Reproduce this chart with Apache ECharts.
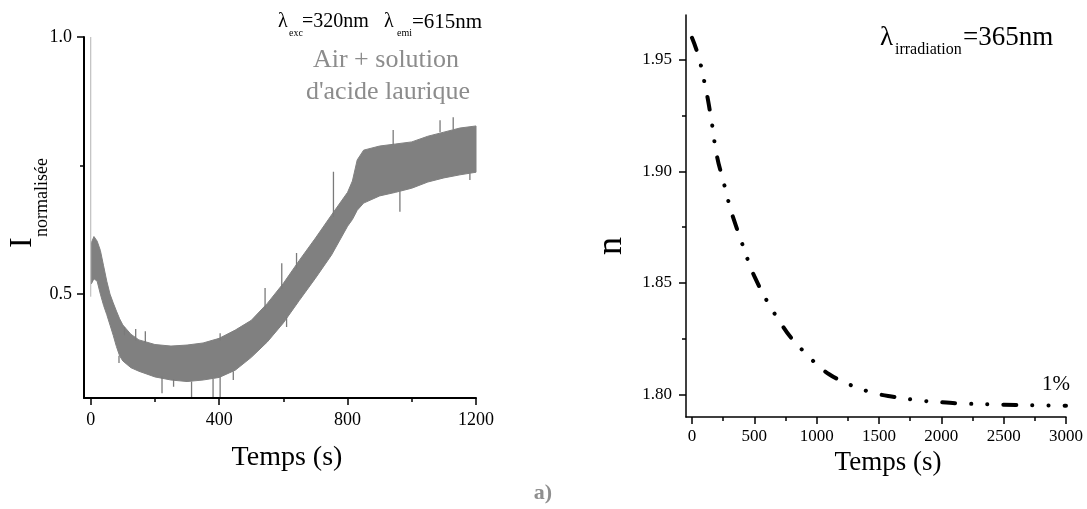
<!DOCTYPE html>
<html>
<head>
<meta charset="utf-8">
<script src="https://cdn.jsdelivr.net/npm/echarts@6/dist/echarts.min.js"></script>
<style>
  html, body { margin: 0; padding: 0; background: #fff; }
  #chart { width: 1087px; height: 509px; }
</style>
</head>
<body>
<div id="chart"></div>
<script>
// panneau gauche : enveloppe du signal bruité
var bandTime = [2, 10, 20, 30, 40, 50, 60, 70, 80, 90, 100, 125, 150, 200, 250, 300, 350, 400, 450, 500,
  550, 600, 650, 700, 750, 800, 815, 830, 850, 900, 950, 1000, 1050, 1100, 1150, 1200];
var bandLow = [0.520, 0.530, 0.525, 0.500, 0.478, 0.460, 0.440, 0.420, 0.398, 0.380, 0.370, 0.357, 0.350, 0.339,
  0.333, 0.330, 0.333, 0.338, 0.352, 0.377, 0.407, 0.444, 0.488, 0.531, 0.576, 0.632, 0.645, 0.663, 0.677,
  0.691, 0.698, 0.706, 0.718, 0.726, 0.732, 0.737];
var bandHigh = [0.600, 0.612, 0.603, 0.585, 0.555, 0.525, 0.500, 0.483, 0.467, 0.452, 0.440, 0.422, 0.411, 0.402,
  0.399, 0.401, 0.405, 0.414, 0.430, 0.449, 0.482, 0.521, 0.566, 0.609, 0.654, 0.698, 0.720, 0.761, 0.780,
  0.788, 0.792, 0.796, 0.807, 0.815, 0.823, 0.827];
// pics isolés : [temps, départ, extrémité]
var spikes = [[88, 0.38, 0.366], [105, 0.42, 0.436], [140, 0.41, 0.432], [170, 0.405, 0.428], [222, 0.34, 0.307],
  [258, 0.335, 0.320], [314, 0.33, 0.300], [381, 0.335, 0.300], [403, 0.34, 0.300], [403, 0.41, 0.424],
  [444, 0.35, 0.333], [543, 0.47, 0.512], [595, 0.51, 0.560], [610, 0.455, 0.436], [641, 0.55, 0.580],
  [756, 0.65, 0.738], [942, 0.79, 0.819], [963, 0.70, 0.660], [1088, 0.815, 0.838], [1129, 0.82, 0.844],
  [1181, 0.735, 0.722]];
var startSpike = [0.495, 1.0];
var leftXTicks = [0, 400, 800, 1200];
var leftXMinor = [200, 600, 1000];
var leftYTicks = [0.5, 1.0];
var leftYMinor = [0.75];

// panneau droit : indice n en fonction du temps
var nTime = [0, 50, 100, 150, 200, 250, 300, 350, 400, 450, 500, 600, 700, 800, 900, 1000, 1100, 1200, 1300,
  1400, 1500, 1600, 1800, 2000, 2200, 2400, 2600, 2800, 3000];
var nValue = [1.960, 1.952, 1.940, 1.925, 1.907, 1.896, 1.885, 1.876, 1.868, 1.860, 1.853, 1.842, 1.833, 1.825,
  1.819, 1.8135, 1.809, 1.806, 1.8035, 1.8015, 1.800, 1.799, 1.7974, 1.7964, 1.7958, 1.7955, 1.7952, 1.7950, 1.7949];
var rightXTicks = [0, 500, 1000, 1500, 2000, 2500, 3000];
var rightXMinor = [250, 750, 1250, 1750, 2250, 2750];
var rightYTicks = [1.80, 1.85, 1.90, 1.95];
var rightYMinor = [1.825, 1.875, 1.925];

var FONT = 'Liberation Serif';

function mainAxis(grid, pos, min, max, ticks, size, margin, lineW, fmt) {
  return {
    type: 'value', gridIndex: grid, position: pos, min: min, max: max,
    axisLine: { show: true, onZero: false, lineStyle: { color: '#000', width: lineW } },
    axisTick: { show: true, customValues: ticks, length: 7, lineStyle: { color: '#000', width: 1.5 } },
    axisLabel: { show: true, customValues: ticks, margin: margin, color: '#000', fontFamily: FONT, fontSize: size, formatter: fmt },
    splitLine: { show: false }
  };
}
function minorAxis(grid, pos, min, max, ticks) {
  return {
    type: 'value', gridIndex: grid, position: pos, min: min, max: max,
    axisLine: { show: false, onZero: false },
    axisTick: { show: true, customValues: ticks, length: 4, lineStyle: { color: '#000', width: 1.5 } },
    axisLabel: { show: false },
    splitLine: { show: false }
  };
}

var chart = echarts.init(document.getElementById('chart'));

var leftX = mainAxis(0, 'bottom', -21, 1200, leftXTicks, 18, 13, 2, function (v) { return v; });
leftX.name = 'Temps (s)';
leftX.nameLocation = 'middle';
leftX.nameGap = 46;
leftX.nameTextStyle = { fontFamily: FONT, fontSize: 28, color: '#000', padding: [0, 0, 0, 14] };

var rightX = mainAxis(1, 'bottom', -48, 3000, rightXTicks, 17, 11, 1.5, function (v) { return v; });
rightX.name = 'Temps (s)';
rightX.nameLocation = 'middle';
rightX.nameGap = 29;
rightX.nameTextStyle = { fontFamily: FONT, fontSize: 27, color: '#000', padding: [0, 0, 0, 24] };

function txt(x, y, s, size, opts) {
  opts = opts || {};
  return {
    type: 'text', x: x, y: y, rotation: opts.rot || 0, silent: true,
    style: {
      text: s, fill: opts.fill || '#000',
      font: (opts.weight || 'normal') + ' ' + size + 'px "' + FONT + '"',
      align: opts.align || 'left', verticalAlign: 'middle'
    }
  };
}

// bande grise : polygone haut puis bas, placé par les échelles du repère
function renderBand(params, api) {
  var pts = [];
  var i;
  for (i = 0; i < bandTime.length; i++) pts.push(api.coord([bandTime[i], bandHigh[i]]));
  for (i = bandTime.length - 1; i >= 0; i--) pts.push(api.coord([bandTime[i], bandLow[i]]));
  return {
    type: 'polygon',
    shape: { points: pts },
    style: { fill: '#808080', stroke: '#808080', lineWidth: 1 }
  };
}

chart.setOption({
  animation: false,
  grid: [
    { left: 84, right: 611, top: 37, bottom: 111 },
    { left: 686, right: 21, top: 15, bottom: 92 }
  ],
  xAxis: [
    leftX,
    minorAxis(0, 'bottom', -21, 1200, leftXMinor),
    rightX,
    minorAxis(1, 'bottom', -48, 3000, rightXMinor)
  ],
  yAxis: [
    mainAxis(0, 'left', 0.298, 1.0, leftYTicks, 18, 12, 2, function (v) { return v.toFixed(1); }),
    minorAxis(0, 'left', 0.298, 1.0, leftYMinor),
    mainAxis(1, 'left', 1.7898, 1.9702, rightYTicks, 17, 14, 1.5, function (v) { return v.toFixed(2); }),
    minorAxis(1, 'left', 1.7898, 1.9702, rightYMinor)
  ],
  series: [
    {
      type: 'custom', xAxisIndex: 0, yAxisIndex: 0,
      data: [[bandTime[0], bandLow[0]]],
      renderItem: renderBand
    },
    {
      type: 'line', xAxisIndex: 0, yAxisIndex: 0, symbol: 'none',
      data: spikes.reduce(function (acc, s) { return acc.concat([[s[0], s[1]], [s[0], s[2]], [s[0], '-']]); }, []),
      lineStyle: { color: '#7a7a7a', width: 1.3 }
    },
    {
      type: 'line', xAxisIndex: 0, yAxisIndex: 0, symbol: 'none',
      data: [[0, startSpike[0]], [0, startSpike[1]]],
      lineStyle: { color: '#b4b4b4', width: 1 }
    },
    {
      type: 'line', xAxisIndex: 2, yAxisIndex: 2, symbol: 'none', smooth: true,
      data: nTime.map(function (t, i) { return [t, nValue[i]]; }),
      lineStyle: { color: '#000', width: 4, type: [13, 16, 0.1, 16, 0.1, 16], cap: 'round' }
    }
  ],
  graphic: [
    // titre gauche
    txt(278, 22, 'λ', 20), txt(289, 33, 'exc', 10), txt(302, 22, '=320nm', 20),
    txt(384, 22, 'λ', 20), txt(397, 33, 'emi', 10), txt(412, 22, '=615nm', 21),
    txt(386, 60, 'Air + solution', 26, { fill: '#8c8c8c', align: 'center' }),
    txt(388, 92, "d'acide laurique", 26, { fill: '#8c8c8c', align: 'center' }),
    // nom de l'axe y gauche
    txt(23, 248, 'I', 32, { rot: Math.PI / 2 }),
    txt(42.5, 237, 'normalisée', 18, { rot: Math.PI / 2 }),
    // panneau droit
    txt(880, 38, 'λ', 27), txt(895, 50, 'irradiation', 16), txt(963, 38, '=365nm', 27),
    txt(612, 246, 'n', 36, { rot: Math.PI / 2, align: 'center' }),
    txt(1056, 384, '1%', 21, { align: 'center' }),
    txt(543, 493, 'a)', 22, { fill: '#8f8f8f', weight: 'bold', align: 'center' })
  ]
});
</script>
</body>
</html>
